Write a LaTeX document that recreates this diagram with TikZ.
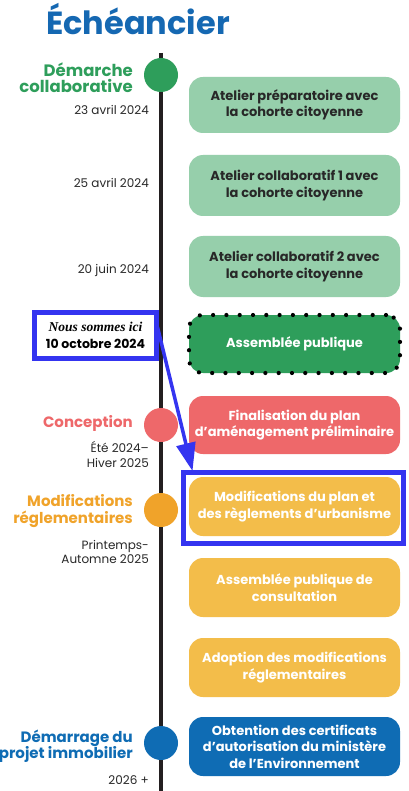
\documentclass[tikz,border=0pt]{standalone}
\usepackage{fontspec}
\setmainfont{Poppins}
\usetikzlibrary{arrows.meta}
\definecolor{titleblue}{RGB}{21,104,178}
\definecolor{cgreen}{RGB}{46,158,91}
\definecolor{lgreen}{RGB}{150,207,171}
\definecolor{cred}{RGB}{238,104,106}
\definecolor{corange}{RGB}{240,163,42}
\definecolor{lorange}{RGB}{243,189,74}
\definecolor{cblue}{RGB}{15,108,180}
\definecolor{hlblue}{RGB}{52,52,240}
\definecolor{tline}{RGB}{35,31,32}
\definecolor{dtext}{RGB}{40,40,40}
\tikzset{
  evbox/.style={rounded corners=14pt, minimum width=211pt, minimum height=59pt, align=center,
    font=\bfseries\fontsize{13}{16.5}\selectfont, inner sep=0pt},
  dot/.style={circle, minimum size=34pt, inner sep=0pt},
  cat/.style={anchor=east, align=right, font=\bfseries\fontsize{15}{16.5}\selectfont, inner sep=0pt},
  datel/.style={anchor=east, align=right, text=dtext, font=\fontsize{12}{14.5}\selectfont, inner sep=0pt},
}
\begin{document}
\begin{tikzpicture}[x=1pt,y=-1pt]
\path[fill=white] (0,0) rectangle (408,791);
\useasboundingbox (0,0) rectangle (408,791);
% title
\node[anchor=base, text=titleblue, font=\bfseries\fontsize{32}{32}\selectfont, inner sep=0pt] (title) at (138,35) {Échéancier};
% timeline
\coordinate (ltop) at (161,53);
\coordinate (lbot) at (161,791);
\draw[tline, line width=4.5pt] (ltop) -- (lbot);
% dots
\node[dot, fill=cgreen] (d1) at (161,75) {};
\node[dot, fill=cred] (d2) at (161,425) {};
\node[dot, fill=corange] (d3) at (161,510) {};
\node[dot, fill=cblue] (d4) at (161,743) {};
% boxes
\node[evbox, fill=lgreen, text=dtext, minimum height=56pt] (b1) at (294.5,105) {Atelier préparatoire avec\\la cohorte citoyenne};
\node[evbox, fill=lgreen, text=dtext, minimum height=61pt] (b2) at (294.5,185.5) {Atelier collaboratif 1 avec\\la cohorte citoyenne};
\node[evbox, fill=lgreen, text=dtext, minimum height=61pt] (b3) at (294.5,266.5) {Atelier collaboratif 2 avec\\la cohorte citoyenne};
\node[evbox, fill=cgreen, text=white, minimum height=58pt, draw=black, line width=4.2pt, line cap=round, dash pattern=on 0pt off 13.3pt] (b4) at (294.5,344) {Assemblée publique};
\node[evbox, fill=cred, text=white, minimum height=58pt] (b5) at (294.5,425) {Finalisation du plan\\d’aménagement préliminaire};
\node[evbox, fill=lorange, text=white] (b6) at (294.5,506.5) {Modifications du plan et\\des règlements d’urbanisme};
\node[evbox, fill=lorange, text=white] (b7) at (294.5,587.5) {Assemblée publique de\\consultation};
\node[evbox, fill=lorange, text=white] (b8) at (294.5,667.5) {Adoption des modifications\\réglementaires};
\node[evbox, fill=cblue, text=white] (b9) at (294.5,746.5) {Obtention des certificats\\d’autorisation du ministère\\de l’Environnement};
% highlight
\node[draw=hlblue, line width=5pt, minimum width=220pt, minimum height=71pt, inner sep=0pt] (hl) at (293,507.5) {};
% left labels
\node[cat, text=cgreen, font=\bfseries\fontsize{16.5}{16}\selectfont] (c1) at (133,78) {Démarche\\collaborative};
\node[datel] (t1) at (149,110) {23 avril 2024};
\node[datel] (t2) at (149,183) {25 avril 2024};
\node[datel] (t3) at (149,270) {20 juin 2024};
\node[cat, text=cred] (c2) at (133,423) {Conception};
\node[datel] (t5) at (149,454.5) {Été 2024–\\Hiver 2025};
\node[cat, text=corange] (c3) at (133,511) {Modifications\\réglementaires};
\node[datel] (t6) at (149,552) {Printemps-\\Automne 2025};
\node[cat, text=cblue] (c4) at (133,746) {Démarrage du\\projet immobilier};
\node[datel] (t7) at (149,780) {2026 +};
% nous sommes ici
\node[draw=hlblue, fill=white, line width=5pt, minimum width=122pt, minimum height=46pt, inner sep=0pt, align=center,
  font=\fontsize{12.5}{17}\selectfont] (nous) at (95.5,335.5)
  {{\fontspec{Liberation Serif}\bfseries\itshape\fontsize{13.5}{17}\selectfont Nous sommes ici}\\{\bfseries 10 octobre 2024}};
% arrow
\coordinate (as) at (157.5,327);
\coordinate (ae) at (192.5,471);
\draw[hlblue, line width=3.5pt, -{Triangle[width=19pt,length=28pt]}] (as) -- (ae);
\end{tikzpicture}
\end{document}
